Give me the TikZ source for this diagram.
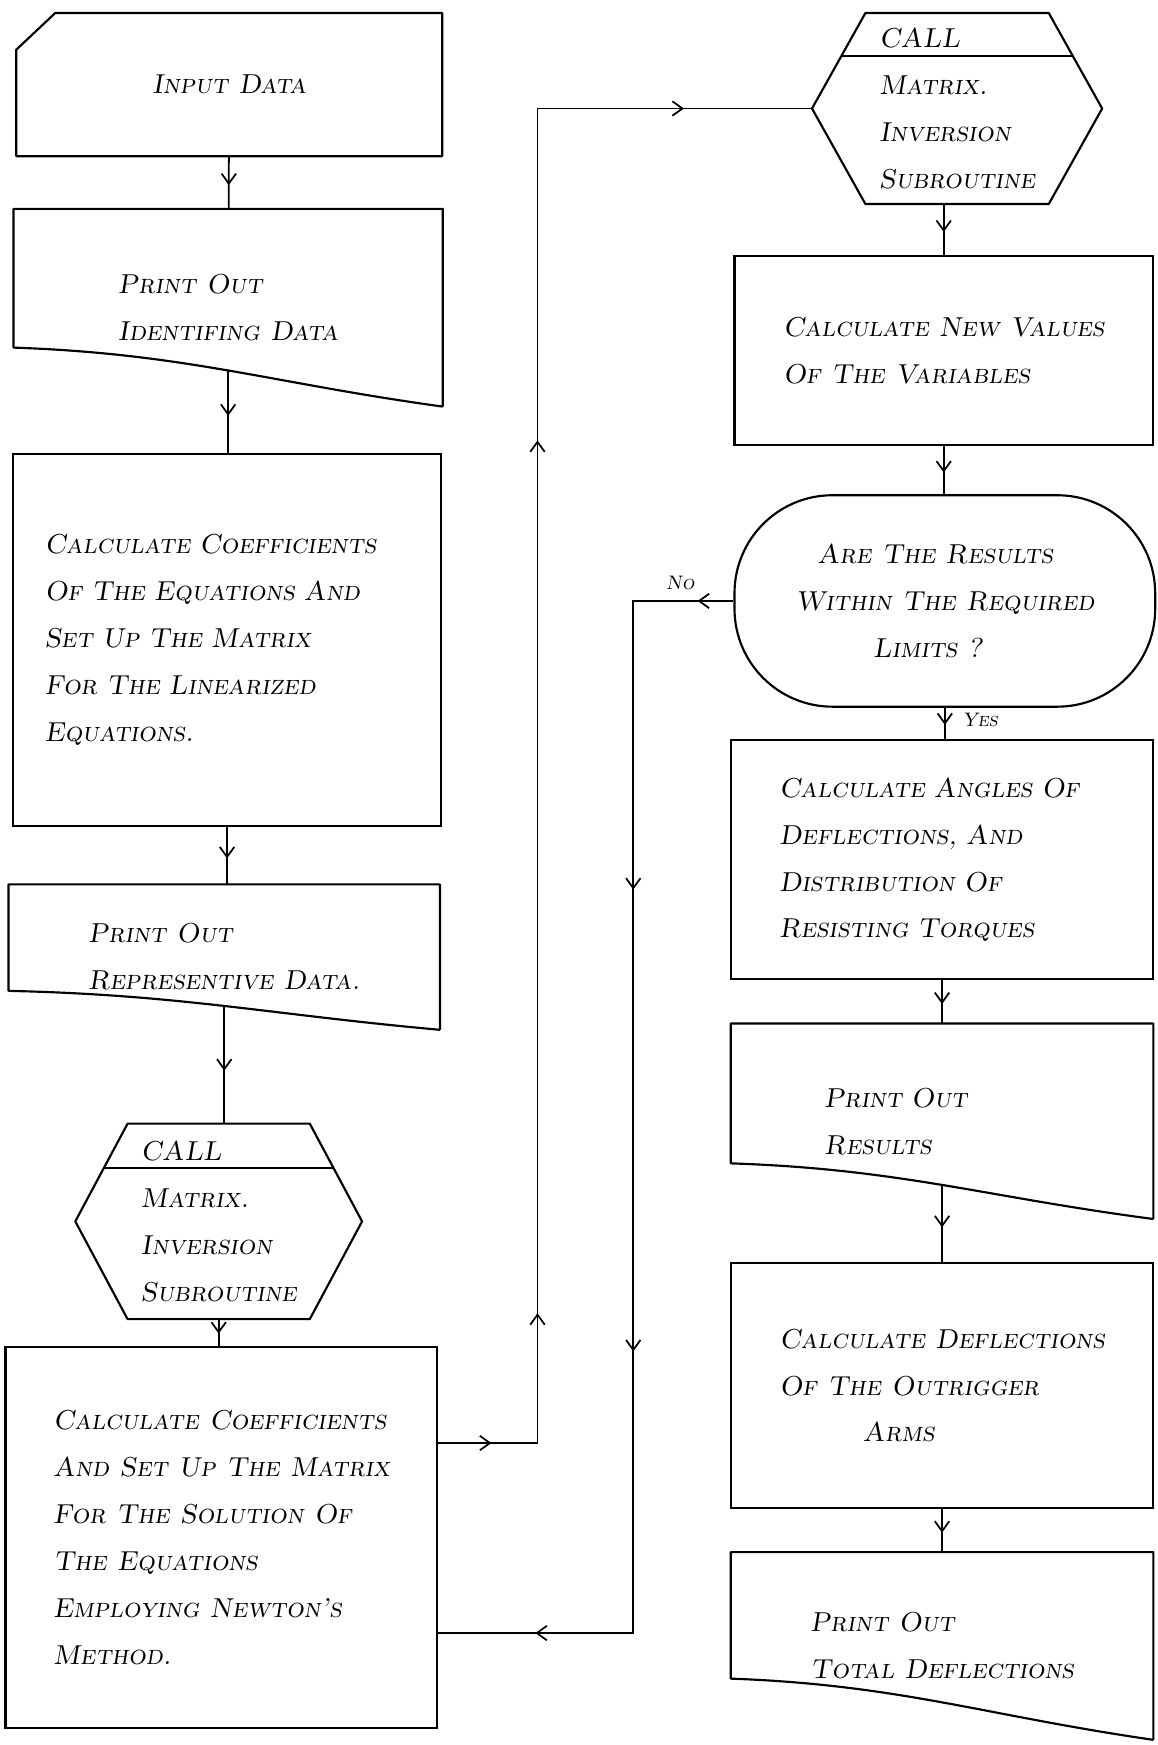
\documentclass[tikz,border=0pt]{standalone}
\usetikzlibrary{calc,arrows.meta,decorations.markings}

\newcommand{\hand}{\fontsize{14}{24}\selectfont\scshape\slshape}

% document symbol: node name, rise of the lower left corner
\newcommand{\docbox}[2]{%
    \draw[shape line] (#1.south east) -- (#1.north east) -- (#1.north west) -- ($(#1.south west)+(0,-#2)$)
        .. controls ($(#1.south west)!0.4!(#1.south east)+(0,{-0.9*#2})$) and ($(#1.south west)!0.6!(#1.south east)+(0,{-0.4*#2})$) .. (#1.south east) coordinate[pos=0.5] (#1-b);}

% call symbol: node name, inset of the top and bottom edges
\newcommand{\hexbox}[2]{%
    \draw[shape line] (#1.west) -- ($(#1.north west)+(#2,0)$) coordinate (#1-tl) -- ($(#1.north east)+(-#2,0)$) coordinate (#1-tr)
        -- (#1.east) -- ($(#1.south east)+(-#2,0)$) -- ($(#1.south west)+(#2,0)$) -- cycle;
    \draw[shape line] ($(#1.west)!0.55!(#1-tl)$) -- ($(#1.east)!0.55!(#1-tr)$);}

\begin{document}
\begin{tikzpicture}[x=0.2mm, y=-0.2mm,
    every node/.style={font=\hand},
    box/.style 2 args={minimum width=#1*0.2mm, minimum height=#2*0.2mm, inner sep=0pt, align=left},
    rect/.style 2 args={box={#1}{#2}, draw, line width=1.1pt},
    shape line/.style={line width=1.1pt, line join=round},
    conn/.style={line width=0.9pt},
    tip at/.style={postaction={decorate, decoration={markings, mark=at position #1 with {\arrow{Straight Barb[length=1.8mm, width=2.6mm]}}}}},
    flow/.style={conn, tip at=0.55},
    small/.style={font=\fontsize{10}{12}\selectfont\scshape\slshape}]
    \useasboundingbox (0,0) rectangle (1040,1568);

    % left column
    \node (input) [box={382}{128}] at (206,76) {Input Data};
    \draw[shape line] (input.south west) -- ($(input.north west)+(0,33)$) -- ($(input.north west)+(35,0)$) -- (input.north east) -- (input.south east) -- cycle;
    \node (idata) [box={385}{177}] at (205,276.5) {Print Out\\Identifing Data};
    \docbox{idata}{53}
    \node (coef) [rect={384}{334}, text width=65.6mm] at (204,575) {Calculate Coefficients\\Of The Equations And\\Set Up The Matrix\\For The Linearized\\Equations.};
    \node (rdata) [box={387}{130}] at (201.5,860) {Print Out\\Representive Data.};
    \docbox{rdata}{35}
    \node (call1) [box={257}{175}] at (196.5,1097.5) {CALL\\Matrix.\\Inversion\\Subroutine};
    \hexbox{call1}{47}
    \node (newton) [rect={388}{343}] at (199,1381.5) {Calculate Coefficients\\And Set Up The Matrix\\For The Solution Of\\The Equations\\Employing Newton's\\Method.};

    % right column
    \node (call2) [box={260}{171}] at (860,97.5) {CALL\\Matrix.\\Inversion\\Subroutine};
    \hexbox{call2}{48}
    \node (newval) [rect={376}{170}] at (848,315) {Calculate New Values\\Of The Variables};
    \node (limits) [box={378}{190}, draw, line width=1.1pt, rounded corners=17.6mm] at (849,540) {\hspace*{4mm}Are The Results\\Within The Required\\\hspace*{14mm}Limits ?};
    \node (angles) [rect={379}{215}, text width=58.6mm] at (846.5,772.5) {Calculate Angles Of\\Deflections, And\\Distribution Of\\Resisting Torques};
    \node (results) [box={379}{175}, text width=42.4mm] at (846.5,1007.5) {Print Out\\Results};
    \docbox{results}{50}
    \node (outrig) [rect={379}{220}] at (846.5,1245) {Calculate Deflections\\Of The Outrigger\\\hspace*{15mm}Arms};
    \node (total) [box={379}{168}] at (846.5,1479) {Print Out\\Total Deflections};
    \docbox{total}{55}

    % connectors
    \draw[flow] (input) -- (idata);
    \draw[flow] (idata-b) -- (idata-b |- coef.north);
    \draw[flow] (coef.south) -- (coef.south |- rdata.north);
    \draw[flow] (rdata-b) -- (rdata-b |- call1.north);
    \draw[flow] (call1.south) -- (call1.south |- newton.north);
    \draw[conn, tip at=0.031, tip at=0.134, tip at=0.645, tip at=0.925] ($(newton.north east)!0.254!(newton.south east)$) -- ++(89,0) |- (call2.west);
    \draw[flow] (newval.north |- call2.south) -- (newval.north);
    \draw[flow] (newval.south) -- (newval.south |- limits.north);
    \draw[flow] (limits.south) -- (limits.south |- angles.north) node[pos=0.4, right=5pt, small] (yes) {Yes};
    \draw[flow] (angles.south) -- (angles.south |- results.north);
    \draw[flow] (results-b) -- (results-b |- outrig.north);
    \draw[flow] (outrig.south) -- (outrig.south |- total.north);
    \draw[conn, tip at=0.027, tip at=0.293, tip at=0.641, tip at=0.927] (limits.west) -- ++(-90,0) node[pos=0.53, above=2pt, small] (no) {No} |- ($(newton.north east)!0.749!(newton.south east)$);
\end{tikzpicture}
\end{document}
